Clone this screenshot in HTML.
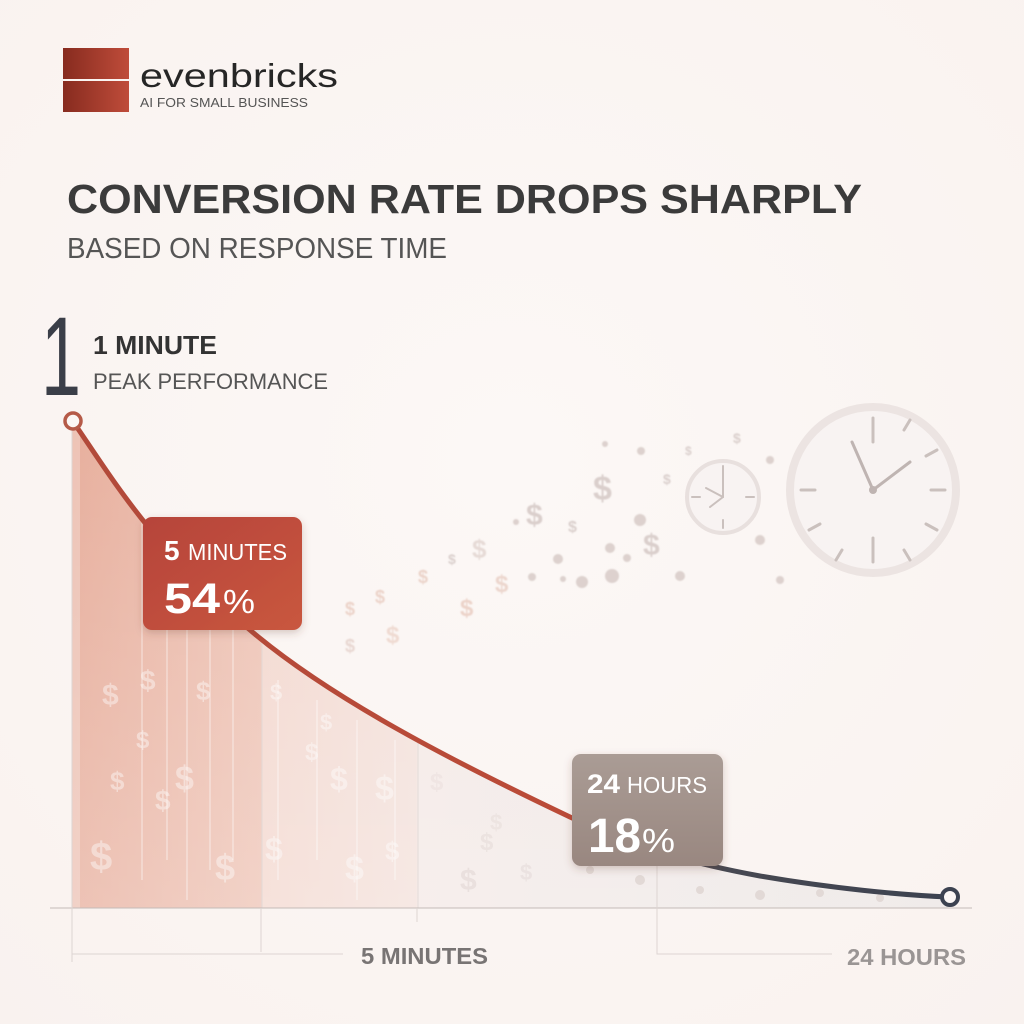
<!DOCTYPE html>
<html><head><meta charset="utf-8"><style>
html,body{margin:0;padding:0;background:#fbf6f4;}
svg{display:block;}
text{font-family:"Liberation Sans",sans-serif;}
</style></head><body>
<svg width="1024" height="1024" viewBox="0 0 1024 1024" xmlns="http://www.w3.org/2000/svg">
<defs>
  <radialGradient id="bg" cx="0.5" cy="0.45" r="0.75">
    <stop offset="0" stop-color="#fcf8f6"/>
    <stop offset="1" stop-color="#f9f2ef"/>
  </radialGradient>
  <linearGradient id="logo" x1="0" y1="0" x2="1" y2="0">
    <stop offset="0" stop-color="#872b1f"/>
    <stop offset="1" stop-color="#bf4c3a"/>
  </linearGradient>
  <linearGradient id="area" gradientUnits="userSpaceOnUse" x1="72" y1="0" x2="948" y2="0">
    <stop offset="0" stop-color="#e7ae9c"/>
    <stop offset="0.216" stop-color="#eec4b6"/>
    <stop offset="0.218" stop-color="#f3d8cf"/>
    <stop offset="0.393" stop-color="#f3e1db"/>
    <stop offset="0.395" stop-color="#f4e9e6"/>
    <stop offset="0.66" stop-color="#efe8e6"/>
    <stop offset="1" stop-color="#ebe5e3"/>
  </linearGradient>
  <linearGradient id="areaV" x1="0" y1="0" x2="0" y2="1">
    <stop offset="0" stop-color="#ffffff" stop-opacity="0"/>
    <stop offset="1" stop-color="#ffffff" stop-opacity="0.25"/>
  </linearGradient>
  <linearGradient id="line" gradientUnits="userSpaceOnUse" x1="72" y1="0" x2="948" y2="0">
    <stop offset="0" stop-color="#b24a3a"/>
    <stop offset="0.6" stop-color="#bb4b38"/>
    <stop offset="0.68" stop-color="#4a4a52"/>
    <stop offset="1" stop-color="#3c4250"/>
  </linearGradient>
  <linearGradient id="redbox" x1="0" y1="0" x2="1" y2="1">
    <stop offset="0" stop-color="#b6443a"/>
    <stop offset="1" stop-color="#c9573f"/>
  </linearGradient>
  <linearGradient id="graybox" x1="0" y1="0" x2="0" y2="1">
    <stop offset="0" stop-color="#aa9c95"/>
    <stop offset="1" stop-color="#998780"/>
  </linearGradient>
  <filter id="sh" x="-20%" y="-20%" width="140%" height="150%">
    <feDropShadow dx="0" dy="3" stdDeviation="4" flood-color="#6a3a30" flood-opacity="0.25"/>
  </filter>
  <filter id="soft" x="-5%" y="-5%" width="110%" height="110%">
    <feGaussianBlur stdDeviation="0.7"/>
  </filter>
  <clipPath id="areaClip">
    <path d="M72,420 C110,475 150,545 250,630 C330,698 450,760 570,817 C640,850 700,865 760,876 C830,888 900,895 948,897 L948,908 L72,908 Z"/>
  </clipPath>
</defs>

<rect x="0" y="0" width="1024" height="1024" fill="url(#bg)"/>

<!-- Logo -->
<rect x="63" y="48" width="66" height="31" fill="url(#logo)"/>
<rect x="63" y="81" width="66" height="31" fill="url(#logo)"/>
<text x="140" y="87" font-size="33" fill="#262626" textLength="198" lengthAdjust="spacingAndGlyphs">evenbricks</text>
<text x="140" y="107" font-size="13" fill="#555" textLength="168" lengthAdjust="spacingAndGlyphs">AI FOR SMALL BUSINESS</text>

<!-- Title -->
<text x="67" y="213" font-size="41" font-weight="bold" fill="#3b3b3b" textLength="795" lengthAdjust="spacingAndGlyphs">CONVERSION RATE DROPS SHARPLY</text>
<text x="67" y="258" font-size="29" fill="#555" textLength="380" lengthAdjust="spacingAndGlyphs">BASED ON RESPONSE TIME</text>

<!-- Big 1 -->
<text x="41" y="395" font-size="112" fill="#3a3e48" textLength="40" lengthAdjust="spacingAndGlyphs">1</text>
<text x="93" y="354" font-size="26" font-weight="bold" fill="#333" textLength="124" lengthAdjust="spacingAndGlyphs">1 MINUTE</text>
<text x="93" y="389" font-size="22" fill="#555" textLength="235" lengthAdjust="spacingAndGlyphs">PEAK PERFORMANCE</text>

<!-- Clocks -->
<g opacity="0.9">
  <circle cx="873" cy="490" r="83" fill="#f8f3f2" stroke="#ebe3e1" stroke-width="8"/>
  <g stroke="#c5bbb8" stroke-width="3" stroke-linecap="round">
    <line x1="873" y1="418" x2="873" y2="442"/>
    <line x1="873" y1="538" x2="873" y2="562"/>
    <line x1="801" y1="490" x2="815" y2="490"/>
    <line x1="931" y1="490" x2="945" y2="490"/>
    <line x1="904" y1="430" x2="910" y2="420"/>
    <line x1="926" y1="456" x2="937" y2="450"/>
    <line x1="926" y1="524" x2="937" y2="530"/>
    <line x1="904" y1="550" x2="910" y2="560"/>
    <line x1="842" y1="550" x2="836" y2="560"/>
    <line x1="820" y1="524" x2="809" y2="530"/>
  </g>
  <g stroke="#b9aeab" stroke-width="3" stroke-linecap="round">
    <line x1="873" y1="490" x2="852" y2="442"/>
    <line x1="873" y1="490" x2="910" y2="462"/>
  </g>
  <circle cx="873" cy="490" r="4" fill="#b9aeab"/>
  <circle cx="723" cy="497" r="36" fill="#f8f3f2" stroke="#e7dedc" stroke-width="4"/>
  <g stroke="#c5bbb8" stroke-width="2" stroke-linecap="round">
    <line x1="723" y1="466" x2="723" y2="474"/>
    <line x1="723" y1="520" x2="723" y2="528"/>
    <line x1="692" y1="497" x2="700" y2="497"/>
    <line x1="746" y1="497" x2="754" y2="497"/>
    <line x1="723" y1="497" x2="723" y2="470"/>
    <line x1="723" y1="497" x2="706" y2="488"/>
    <line x1="723" y1="497" x2="710" y2="507"/>
  </g>
</g>

<!-- Trail decorations -->
<g filter="url(#soft)">
<g fill="#ddd1ce">
  <circle cx="605" cy="444" r="3"/><circle cx="641" cy="451" r="4"/><circle cx="610" cy="548" r="5"/>
  <circle cx="612" cy="576" r="7"/><circle cx="680" cy="576" r="5"/><circle cx="558" cy="559" r="5"/>
  <circle cx="532" cy="577" r="4"/><circle cx="563" cy="579" r="3"/><circle cx="582" cy="582" r="6"/>
  <circle cx="627" cy="558" r="4"/><circle cx="516" cy="522" r="3"/><circle cx="770" cy="460" r="4"/>
  <circle cx="760" cy="540" r="5"/><circle cx="780" cy="580" r="4"/><circle cx="640" cy="520" r="6"/>
</g>
<g font-weight="bold" fill="#dacfcc">
  <text x="526" y="525" font-size="30">$</text>
  <text x="593" y="500" font-size="34">$</text>
  <text x="643" y="555" font-size="30">$</text>
  <text x="472" y="558" font-size="26" fill="#e6dad6">$</text>
  <text x="495" y="592" font-size="24" fill="#ecd6cd">$</text>
  <text x="460" y="616" font-size="24" fill="#ecd3c9">$</text>
  <text x="418" y="583" font-size="18" fill="#ebd3c9">$</text>
  <text x="448" y="564" font-size="14">$</text>
  <text x="375" y="603" font-size="18" fill="#ecd3c9">$</text>
  <text x="345" y="615" font-size="18" fill="#ecd3c9">$</text>
  <text x="386" y="643" font-size="24" fill="#efdad1">$</text>
  <text x="345" y="652" font-size="18" fill="#e8d7d1">$</text>
  <text x="568" y="532" font-size="16">$</text>
  <text x="663" y="484" font-size="14">$</text>
  <text x="733" y="443" font-size="14">$</text>
  <text x="685" y="455" font-size="12">$</text>
</g>
</g>

<!-- Area fill -->
<path d="M72,420 C110,475 150,545 250,630 C330,698 450,760 570,817 C640,850 700,865 760,876 C830,888 900,895 948,897 L948,908 L72,908 Z" fill="url(#area)"/>
<g clip-path="url(#areaClip)">
  <rect x="72" y="400" width="880" height="510" fill="url(#areaV)"/>
  <rect x="72" y="400" width="8" height="510" fill="#fff" opacity="0.25"/>
  <g stroke="#ffffff" stroke-width="1.5" opacity="0.4">
    <line x1="142" y1="480" x2="142" y2="880"/>
    <line x1="167" y1="520" x2="167" y2="860"/>
    <line x1="187" y1="560" x2="187" y2="900"/>
    <line x1="210" y1="600" x2="210" y2="870"/>
    <line x1="233" y1="620" x2="233" y2="860"/>
    <line x1="278" y1="680" x2="278" y2="880"/>
    <line x1="317" y1="700" x2="317" y2="860"/>
    <line x1="357" y1="720" x2="357" y2="900"/>
    <line x1="395" y1="740" x2="395" y2="880"/>
  </g>
  <g stroke="#e3dad7" stroke-width="1">
    <line x1="262" y1="600" x2="262" y2="908"/>
    <line x1="418" y1="700" x2="418" y2="908"/>
  </g>
  <g font-weight="bold" fill="#ffffff" opacity="0.42">
    <text x="102" y="705" font-size="30">$</text>
    <text x="140" y="690" font-size="28">$</text>
    <text x="196" y="700" font-size="26">$</text>
    <text x="136" y="748" font-size="24">$</text>
    <text x="110" y="790" font-size="26">$</text>
    <text x="175" y="790" font-size="34">$</text>
    <text x="155" y="810" font-size="28">$</text>
    <text x="90" y="870" font-size="40">$</text>
    <text x="215" y="880" font-size="36">$</text>
    <text x="265" y="860" font-size="32">$</text>
    <text x="270" y="700" font-size="22">$</text>
    <text x="320" y="730" font-size="22">$</text>
    <text x="330" y="790" font-size="32">$</text>
    <text x="375" y="800" font-size="34">$</text>
    <text x="345" y="880" font-size="34">$</text>
    <text x="385" y="860" font-size="26">$</text>
    <text x="305" y="760" font-size="24">$</text>
    <text x="480" y="850" font-size="24" fill="#ddd4d1">$</text>
    <text x="430" y="790" font-size="24" fill="#e6dcd9">$</text>
    <text x="460" y="890" font-size="30" fill="#d8cecb">$</text>
    <text x="520" y="880" font-size="22" fill="#ddd4d1">$</text>
    <text x="490" y="830" font-size="22" fill="#e2d8d5">$</text>
  </g>
  <g fill="#e2d9d6">
    <circle cx="590" cy="870" r="4"/><circle cx="640" cy="880" r="5"/><circle cx="700" cy="890" r="4"/>
    <circle cx="760" cy="895" r="5"/><circle cx="820" cy="893" r="4"/><circle cx="880" cy="898" r="4"/>
  </g>
</g>

<!-- Axis and guides -->
<line x1="50" y1="908" x2="972" y2="908" stroke="#c4bbb8" stroke-width="1"/>
<g stroke="#ddd5d2" stroke-width="1" fill="none">
  <line x1="72" y1="420" x2="72" y2="962"/>
  <line x1="261" y1="908" x2="261" y2="952"/>
  <line x1="417" y1="908" x2="417" y2="922"/>
  <polyline points="72,954 343,954"/>
  <polyline points="657,866 657,954 832,954"/>
</g>
<text x="361" y="964" font-size="23" font-weight="bold" fill="#787474" textLength="127" lengthAdjust="spacingAndGlyphs">5 MINUTES</text>
<text x="847" y="965" font-size="23" font-weight="bold" fill="#9a9594" textLength="119" lengthAdjust="spacingAndGlyphs">24 HOURS</text>

<!-- Curve -->
<path d="M72,420 C110,475 150,545 250,630 C330,698 450,760 570,817 C640,850 700,865 760,876 C830,888 900,895 948,897" fill="none" stroke="url(#line)" stroke-width="5" stroke-linecap="round"/>
<circle cx="73" cy="421" r="8" fill="#fbf6f4" stroke="#b55a48" stroke-width="3.5"/>
<circle cx="950" cy="897" r="8" fill="#fbf6f4" stroke="#3c4250" stroke-width="4"/>

<!-- Red box -->
<rect x="143" y="517" width="159" height="113" rx="9" fill="url(#redbox)" filter="url(#sh)"/>
<text x="164" y="560" font-size="28" font-weight="bold" fill="#fff">5</text>
<text x="188" y="560" font-size="23" fill="#fff" textLength="99" lengthAdjust="spacingAndGlyphs">MINUTES</text>
<text x="164" y="613" font-size="43" font-weight="bold" fill="#fff" textLength="56" lengthAdjust="spacingAndGlyphs">54</text>
<text x="223" y="613" font-size="33" fill="#fff" textLength="32" lengthAdjust="spacingAndGlyphs">%</text>

<!-- Gray box -->
<rect x="572" y="754" width="151" height="112" rx="9" fill="url(#graybox)" filter="url(#sh)"/>
<text x="587" y="793" font-size="27" font-weight="bold" fill="#fff" textLength="33" lengthAdjust="spacingAndGlyphs">24</text>
<text x="627" y="793" font-size="23" fill="#fff" textLength="80" lengthAdjust="spacingAndGlyphs">HOURS</text>
<text x="588" y="852" font-size="48" font-weight="bold" fill="#fff" textLength="53" lengthAdjust="spacingAndGlyphs">18</text>
<text x="642" y="852" font-size="33" fill="#fff" textLength="33" lengthAdjust="spacingAndGlyphs">%</text>
</svg>
</body></html>
